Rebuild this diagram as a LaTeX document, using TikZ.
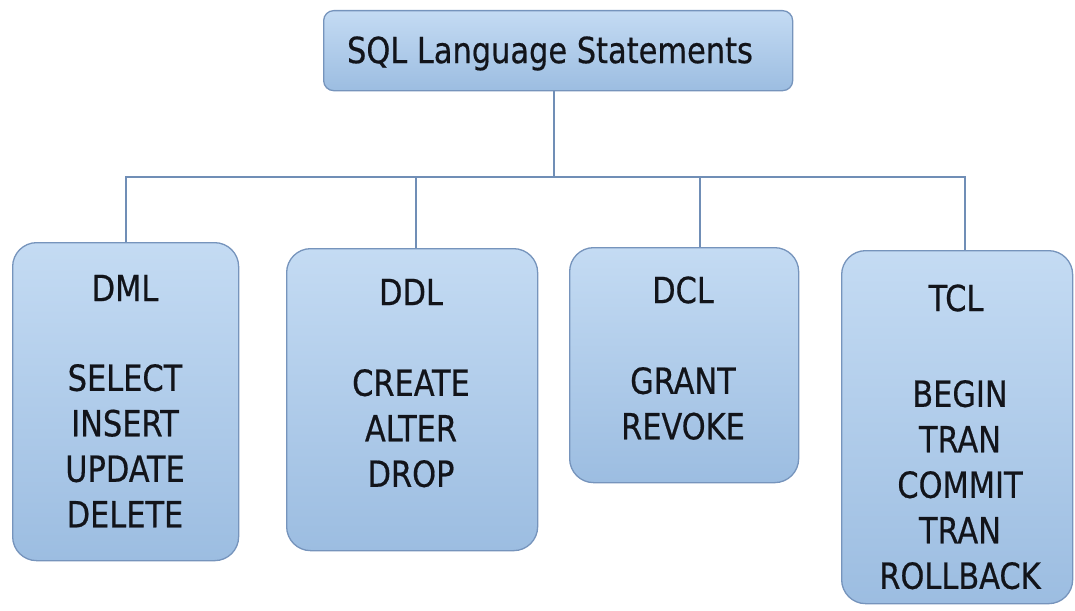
\documentclass[tikz,border=0pt]{standalone}
\usepackage{fontspec}
\setmainfont[FakeStretch=0.94,FakeBold=0.5]{DejaVu Sans Condensed}
\definecolor{boxtop}{RGB}{196,219,243}
\definecolor{boxbot}{RGB}{156,189,225}
\definecolor{boxborder}{RGB}{118,148,188}
\definecolor{linecol}{RGB}{112,142,182}
\definecolor{txtcol}{RGB}{18,20,26}
\begin{document}
\begin{tikzpicture}[x=1pt,y=-1pt,
  box/.style={draw=boxborder, line width=1.3pt, rounded corners=24pt,
    top color=boxtop, bottom color=boxbot, inner sep=0pt, anchor=north west},
  txt/.style={text=txtcol, font=\fontsize{36}{45.5}\selectfont, inner sep=0pt, align=center},
  link/.style={draw=linecol, line width=1.8pt}]
\useasboundingbox (0,0) rectangle (1075,610);
% boxes
\node[box, rounded corners=10pt, minimum width=469pt, minimum height=80pt] (top) at (323,10) {};
\node[box, minimum width=226pt, minimum height=318pt] (dml) at (12,242) {};
\node[box, minimum width=251pt, minimum height=302pt] (ddl) at (286,248) {};
\node[box, minimum width=229pt, minimum height=235pt] (dcl) at (569,247) {};
\node[box, minimum width=231pt, minimum height=353pt] (tcl) at (841,250) {};
% texts
\node[txt, anchor=base] (toplbl) at (550,63.1) {SQL Language Statements};
\node[txt, anchor=base] (dmlt) at (125,301.1) {DML};
\node[txt, anchor=north] (dmli) at (125,363.9) {SELECT\\INSERT\\UPDATE\\DELETE};
\node[txt, anchor=base] (ddlt) at (411,305.1) {DDL};
\node[txt, anchor=north] (ddli) at (411,368.9) {CREATE\\ALTER\\DROP};
\node[txt, anchor=base] (dclt) at (683,303.1) {DCL};
\node[txt, anchor=north] (dcli) at (683,366.9) {GRANT\\REVOKE};
\node[txt, anchor=base] (tclt) at (956,311.1) {TCL};
\node[txt, anchor=north] (tcli) at (960,379.9) {BEGIN\\TRAN\\COMMIT\\TRAN\\ROLLBACK};
% connectors
\coordinate (bus) at (0,177);
\coordinate (ddlc) at (416,248);
\coordinate (dclc) at (700,247);
\coordinate (tclc) at (965,250);
\draw[link] ([xshift=-4pt]top.south) -- ([xshift=-4pt]top.south |- bus);
\draw[link] (dml.north) -- (dml.north |- bus) -- (tclc |- bus) -- (tclc);
\draw[link] (ddlc) -- (ddlc |- bus);
\draw[link] (dclc) -- (dclc |- bus);
\end{tikzpicture}
\end{document}
